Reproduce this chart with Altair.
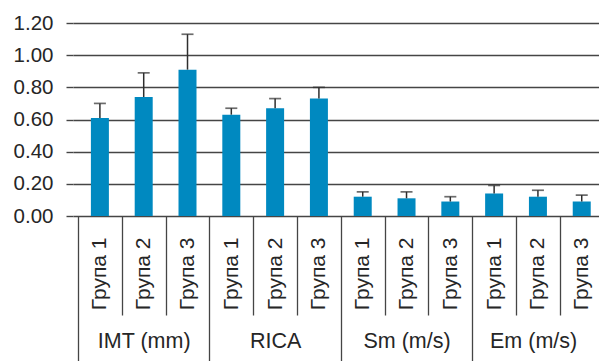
import json
import altair as alt
import pandas as pd

# Measures (groups of bars) and the three patient groups inside each
measures = ["IMT (mm)", "RICA", "Sm (m/s)", "Em (m/s)"]
groups = ["Група 1", "Група 2", "Група 3"]

# Mean value and standard deviation of every bar, measure by measure
means = [0.61, 0.74, 0.91, 0.63, 0.67, 0.73, 0.12, 0.11, 0.09, 0.14, 0.12, 0.09]
sds = [0.09, 0.15, 0.22, 0.04, 0.06, 0.07, 0.03, 0.04, 0.03, 0.05, 0.04, 0.04]

y_ticks = [0.0, 0.2, 0.4, 0.6, 0.8, 1.0, 1.2]

n_groups = len(groups)
n_cat = len(measures) * n_groups
x_max = 11.78  # visible part of the category axis

rows = []
for i in range(n_cat):
    rows.append({
        "measure": measures[i // n_groups],
        "group": groups[i % n_groups],
        "pos": i + 0.5,
        "mean": means[i],
        "top": round(means[i] + sds[i], 3),
    })
df = pd.DataFrame(rows)

# centre of each measure's visible span, for the lower label row
measure_pos = [
    (k * n_groups + min((k + 1) * n_groups, x_max)) / 2 for k in range(len(measures))
]

FONT = "Liberation Sans"
INK = "#262626"
LINE = "#454545"
BAR = "#0089c0"

x_scale = alt.Scale(domain=[0, x_max], nice=False, zero=False)

# separators: short between groups, long between measures
sep_axis = alt.Axis(
    orient="bottom", title=None, labels=False, domain=False, grid=False,
    values=list(range(0, n_cat)),
    tickSize={"condition": {"test": f"datum.value % {n_groups} === 0", "value": 150},
              "value": 99},
    tickColor=LINE, tickWidth=1.3,
)

group_axis = alt.Axis(
    orient="bottom", title=None, domain=False, grid=False, ticks=False,
    values=[i + 0.5 for i in range(n_cat)],
    labelExpr=f"{json.dumps(groups)}[floor(datum.value) % {n_groups}]",
    labelAngle=270, labelAlign="right", labelBaseline="middle",
    labelPadding=21, labelFont=FONT, labelFontSize=21, labelColor=INK,
    labelOverlap=False, labelFlush=False,
)

measure_axis = alt.Axis(
    orient="bottom", title=None, domain=False, grid=False, ticks=False,
    values=measure_pos,
    labelExpr=f"{json.dumps(measures)}[floor(datum.value / {n_groups})]",
    labelAngle=0, labelAlign="center", labelBaseline="alphabetic",
    labelPadding=131, labelFont=FONT, labelFontSize=21.5, labelColor=INK,
    labelOverlap=False, labelFlush=False,
)

y_scale = alt.Scale(domain=[0, 1.2], nice=False)
y_axis = alt.Axis(
    title=None, values=y_ticks, format=".2f", domain=False,
    grid=True, gridColor=LINE, gridWidth=1.4,
    tickSize=7, tickColor=LINE, tickWidth=1.4,
    labelPadding=13, labelFont=FONT, labelFontSize=20.5, labelColor=INK,
)

base = alt.Chart(df)

bars = base.mark_bar(color=BAR, size=18).encode(
    x=alt.X("pos:Q", scale=x_scale, axis=sep_axis),
    y=alt.Y("mean:Q", scale=y_scale, axis=y_axis),
)

err = base.mark_rule(color="#2e2e2e", strokeWidth=1.5).encode(
    x=alt.X("pos:Q", scale=x_scale, axis=group_axis),
    y=alt.Y("mean:Q", scale=y_scale, axis=None),
    y2="top:Q",
)

caps = base.mark_tick(color="#2e2e2e", orient="horizontal", size=12, thickness=1.7).encode(
    x=alt.X("pos:Q", scale=x_scale, axis=measure_axis),
    y=alt.Y("top:Q", scale=y_scale, axis=None),
)

chart = (
    alt.layer(bars, err, caps)
    .resolve_scale(x="shared", y="shared")
    .resolve_axis(x="independent", y="independent")
    .properties(
        width=526, height=193,
        autosize=alt.AutoSizeParams(type="none"),
        padding={"left": 73, "top": 23, "right": 0, "bottom": 145},
        background="white",
    )
    .configure_view(stroke=None)
)

chart.save("out.html", embed_options={"renderer": "svg", "actions": False})
